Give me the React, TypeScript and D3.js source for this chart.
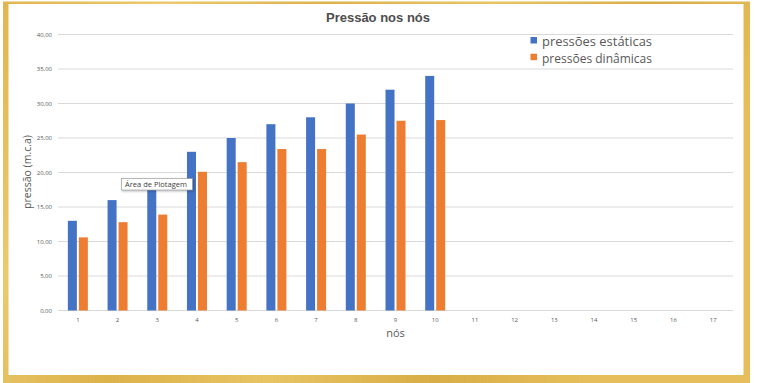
import React from "react";
import * as d3 from "d3";

const categories = ["1","2","3","4","5","6","7","8","9","10","11","12","13","14","15","16","17"];
const seriesNames = ["pressões estáticas", "pressões dinâmicas"];
const estaticas = [13, 16, 18, 23, 25, 27, 28, 30, 32, 34];
const dinamicas = [10.6, 12.8, 13.9, 20.1, 21.5, 23.4, 23.4, 25.5, 27.5, 27.6];
const yTicks = [0, 5, 10, 15, 20, 25, 30, 35, 40];
const colors = ["#4472C4", "#ED7D31"];

export default function App() {
  const W = 757, H = 383;
  const x0 = d3.scaleBand().domain(categories).range([58, 733]).padding(0);
  const x1 = d3.scaleBand().domain(["0", "1"]).range([0, 20]).paddingInner(0.18);
  const y = d3.scaleLinear().domain([0, 40]).range([310.5, 34.5]);
  const fmt = (v: number) => v.toFixed(2).replace(".", ",");
  const series = [estaticas, dinamicas];
  const font = "'Liberation Sans', Arial, sans-serif";
  const font2 = "'Open Sans', 'Noto Sans', sans-serif";
  return (
    <svg width={W} height={H} style={{ position: "absolute", left: 0, top: 0 }}>
      <defs>
        <linearGradient id="gold" x1="0" y1="0" x2="1" y2="0.3">
          <stop offset="0" stopColor="#e0b64e" />
          <stop offset="0.2" stopColor="#ebc96e" />
          <stop offset="0.4" stopColor="#dcb24a" />
          <stop offset="0.6" stopColor="#e8c463" />
          <stop offset="0.8" stopColor="#d8ad46" />
          <stop offset="1" stopColor="#e6bf5c" />
        </linearGradient>
        <filter id="sh" x="-20%" y="-50%" width="140%" height="200%">
          <feDropShadow dx="1" dy="1" stdDeviation="1" floodColor="#000" floodOpacity="0.3" />
        </filter>
      </defs>
      <rect x={0} y={0} width={W} height={H} fill="#ffffff" />
      <rect x={3} y={1.5} width={747} height={H - 1.5} fill="url(#gold)" />
      <rect x={8.5} y={4} width={735} height={371} fill="#ffffff" />

      <text x={378} y={22} textAnchor="middle" fontFamily={font} fontWeight="bold" fontSize={13} fill="#4d4d4d">Pressão nos nós</text>

      {yTicks.map((t) => (
        <g key={t}>
          <line x1={58} x2={733} y1={y(t)} y2={y(t)} stroke="#d9d9d9" strokeWidth={1} />
          <text x={52} y={y(t) + 2.2} textAnchor="end" fontFamily={font2} fontSize={6} fill="#595959">{fmt(t)}</text>
        </g>
      ))}

      {categories.map((c) => (
        <text key={c} x={(x0(c) as number) + x0.bandwidth() / 2} y={321.5} textAnchor="middle" fontFamily={font2} fontSize={6} fill="#595959">{c}</text>
      ))}

      {series.map((vals, si) =>
        vals.map((v, i) => {
          const c = categories[i];
          const gx = (x0(c) as number) + (x0.bandwidth() - 20) / 2 + (x1(String(si)) as number);
          return <rect key={si + "-" + i} x={gx} y={y(v)} width={x1.bandwidth()} height={y(0) - y(v)} fill={colors[si]} />;
        })
      )}

      <text transform="translate(31,172) rotate(-90)" textAnchor="middle" fontFamily={font2} fontSize={10.5} fill="#595959">pressão (m.c.a)</text>
      <text x={395.5} y={336.5} textAnchor="middle" fontFamily={font2} fontSize={11} fill="#595959">nós</text>

      {seriesNames.map((n, i) => (
        <g key={n}>
          <rect x={530.5} y={37} width={6.5} height={6.5} fill={colors[i]} transform={`translate(0, ${i * 16.7})`} />
          <text x={542} y={46 + i * 16.7} fontFamily={font2} fontSize={13} fill="#595959" textLength={110} lengthAdjust="spacingAndGlyphs">{n}</text>
        </g>
      ))}

      <g filter="url(#sh)">
        <rect x={121.5} y={178.5} width={71} height={11.5} fill="#ffffff" stroke="#8c8c8c" strokeWidth={0.6} />
      </g>
      <text x={125} y={187} fontFamily={font2} fontSize={7.5} fill="#404040">Área de Plotagem</text>
    </svg>
  );
}
